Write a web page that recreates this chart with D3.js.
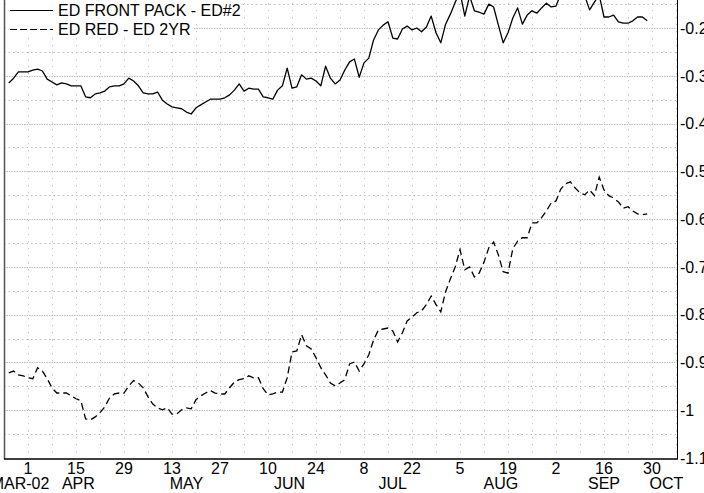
<!DOCTYPE html>
<html>
<head>
<meta charset="utf-8">
<script src="https://cdn.jsdelivr.net/npm/d3@7"></script>
<style>
  html, body { margin: 0; padding: 0; background: #fff; }
  svg { display: block; }
  text { font-family: "Liberation Sans", Arial, sans-serif; fill: #000; }
</style>
</head>
<body>
<svg id="chart" width="704" height="493"></svg>
<script>
// Spread series, one value per trading day from 2002-03-26 to 2002-09-27
const seriesStart = "2002-03-26";
const frontPackSpread = [
  -0.315, -0.305, -0.292, -0.292, -0.292, -0.288, -0.286, -0.290, -0.307, -0.313,
  -0.319, -0.315, -0.317, -0.321, -0.321, -0.321, -0.344, -0.346, -0.338, -0.336,
  -0.332, -0.323, -0.321, -0.321, -0.317, -0.305, -0.311, -0.321, -0.336, -0.338,
  -0.338, -0.334, -0.351, -0.359, -0.365, -0.367, -0.369, -0.376, -0.380, -0.367,
  -0.361, -0.355, -0.349, -0.349, -0.349, -0.346, -0.340, -0.330, -0.317, -0.332,
  -0.326, -0.328, -0.328, -0.344, -0.346, -0.349, -0.330, -0.321, -0.284, -0.326,
  -0.323, -0.298, -0.307, -0.305, -0.311, -0.321, -0.280, -0.305, -0.317, -0.309,
  -0.288, -0.271, -0.265, -0.303, -0.273, -0.263, -0.225, -0.204, -0.194, -0.187,
  -0.221, -0.223, -0.202, -0.196, -0.204, -0.200, -0.208, -0.198, -0.175, -0.210,
  -0.231, -0.192, -0.171, -0.146, -0.125, -0.175, -0.133, -0.164, -0.167, -0.171,
  -0.150, -0.156, -0.194, -0.231, -0.210, -0.179, -0.158, -0.192, -0.173, -0.164,
  -0.169, -0.158, -0.148, -0.156, -0.154, -0.129, -0.112, -0.121, -0.108, -0.125,
  -0.133, -0.162, -0.146, -0.131, -0.177, -0.177, -0.173, -0.187, -0.190, -0.190,
  -0.185, -0.177, -0.177, -0.185
];
const redSpread = [
  -0.922, -0.918, -0.926, -0.928, -0.932, -0.934, -0.911, -0.918, -0.934, -0.953,
  -0.964, -0.964, -0.964, -0.970, -0.976, -0.980, -1.018, -1.020, -1.014, -1.005,
  -0.993, -0.974, -0.966, -0.964, -0.964, -0.949, -0.938, -0.943, -0.953, -0.972,
  -0.987, -0.995, -0.999, -0.995, -1.008, -1.008, -0.999, -0.995, -0.997, -0.978,
  -0.970, -0.964, -0.959, -0.964, -0.966, -0.966, -0.953, -0.941, -0.936, -0.934,
  -0.928, -0.932, -0.932, -0.955, -0.968, -0.966, -0.962, -0.962, -0.932, -0.878,
  -0.876, -0.842, -0.865, -0.872, -0.890, -0.911, -0.926, -0.943, -0.949, -0.943,
  -0.936, -0.903, -0.899, -0.918, -0.903, -0.884, -0.853, -0.832, -0.830, -0.828,
  -0.834, -0.857, -0.838, -0.813, -0.805, -0.796, -0.792, -0.779, -0.761, -0.779,
  -0.794, -0.752, -0.725, -0.700, -0.664, -0.706, -0.700, -0.721, -0.713, -0.690,
  -0.660, -0.648, -0.675, -0.710, -0.713, -0.662, -0.646, -0.639, -0.639, -0.608,
  -0.608, -0.597, -0.583, -0.566, -0.562, -0.537, -0.526, -0.522, -0.535, -0.545,
  -0.549, -0.539, -0.551, -0.512, -0.539, -0.551, -0.556, -0.564, -0.577, -0.574,
  -0.583, -0.589, -0.591, -0.589
];
const seriesNames = ["ED FRONT PACK - ED#2", "ED RED - ED 2YR"];

// Axis: trading-day calendar, ticks every two weeks
const axisStart = "2002-03-25";
const axisEnd = "2002-10-07";
const tickDates = [
  "2002-04-01", "2002-04-15", "2002-04-29", "2002-05-13", "2002-05-27",
  "2002-06-10", "2002-06-24", "2002-07-08", "2002-07-22", "2002-08-05",
  "2002-08-19", "2002-09-02", "2002-09-16", "2002-09-30"
];
const monthLabels = ["MAR-02", "APR", "MAY", "JUN", "JUL", "AUG", "SEP", "OCT"];
const yTicks = [-1.1, -1.0, -0.9, -0.8, -0.7, -0.6, -0.5, -0.4, -0.3, -0.2, -0.1];

const parse = d3.utcParse("%Y-%m-%d");
const fmt = d3.utcFormat("%Y-%m-%d");

// weekday calendar for the x axis
const days = d3.utcDays(parse(axisStart), d3.utcDay.offset(parse(axisEnd), 1))
  .filter(d => d.getUTCDay() !== 0 && d.getUTCDay() !== 6);
const dayIndex = new Map(days.map((d, i) => [fmt(d), i]));

const plot = { left: 4, right: 676, bottom: 458 };
const x = d3.scaleLinear().domain([0, days.length - 1]).range([plot.left, plot.right]);
const y = d3.scaleLinear().domain([-1.1, -0.2]).range([458, 28]);
const frameRight = 677, frameTop = y(-0.1) - 12;

const svg = d3.select("#chart");

// grid: weekly verticals, 0.1 major and 0.05 minor horizontals
const grid = svg.append("g");
for (let i = 5; i < days.length; i += 5) {
  grid.append("line")
    .attr("x1", x(i) + 0.5).attr("x2", x(i) + 0.5)
    .attr("y1", frameTop).attr("y2", plot.bottom)
    .attr("stroke", "#b4b4b4").attr("stroke-width", 1)
    .attr("stroke-dasharray", "1,6");
}
const minor = d3.range(-1.05, -0.1, 0.1);
minor.forEach(v => {
  grid.append("line")
    .attr("x1", plot.left).attr("x2", frameRight)
    .attr("y1", Math.round(y(v)) + 0.5).attr("y2", Math.round(y(v)) + 0.5)
    .attr("stroke", "#bdbdbd").attr("stroke-width", 1)
    .attr("stroke-dasharray", "1.5,3");
});
yTicks.slice(1).forEach(v => {
  grid.append("line")
    .attr("x1", plot.left).attr("x2", frameRight)
    .attr("y1", Math.round(y(v)) + 0.5).attr("y2", Math.round(y(v)) + 0.5)
    .attr("stroke", "#bdbdbd").attr("stroke-width", 1.2)
    .attr("stroke-dasharray", "1.5,1");
});

// series lines
const startIdx = dayIndex.get(seriesStart);
const line = d3.line()
  .x((d, i) => x(startIdx + i))
  .y(d => y(d));

svg.append("path").datum(frontPackSpread)
  .attr("d", line).attr("fill", "none")
  .attr("stroke", "#000").attr("stroke-width", 1.3)
  .attr("stroke-linejoin", "round");
svg.append("path").datum(redSpread)
  .attr("d", line).attr("fill", "none")
  .attr("stroke", "#000").attr("stroke-width", 1.3)
  .attr("stroke-dasharray", "7,4");

// frame
svg.append("line").attr("x1", plot.left + 0.5).attr("x2", plot.left + 0.5)
  .attr("y1", frameTop).attr("y2", plot.bottom + 1)
  .attr("stroke", "#555").attr("stroke-width", 1.5);
svg.append("line").attr("x1", frameRight + 0.5).attr("x2", frameRight + 0.5)
  .attr("y1", frameTop).attr("y2", plot.bottom + 1)
  .attr("stroke", "#000").attr("stroke-width", 1);
svg.append("line").attr("x1", plot.left).attr("x2", frameRight + 1)
  .attr("y1", plot.bottom + 1).attr("y2", plot.bottom + 1)
  .attr("stroke", "#000").attr("stroke-width", 1.5);

// right value axis
svg.append("g").selectAll("text").data(yTicks).join("text")
  .attr("x", frameRight + 3).attr("y", d => y(d))
  .attr("dy", "0.36em")
  .attr("font-size", 16)
  .text(d => String(d));

// day-of-month ticks
const tickIdx = tickDates.map(s => dayIndex.get(s));
svg.append("g").selectAll("text").data(tickIdx).join("text")
  .attr("x", i => x(i)).attr("y", 474)
  .attr("text-anchor", "middle").attr("font-size", 16)
  .text(i => String(days[i].getUTCDate()));

// month labels, centred on each month's span of trading days
const months = d3.groups(days.map((d, i) => ({ d, i })), o => o.d.getUTCMonth());
months.forEach(([m, arr], k) => {
  let cx = (x(arr[0].i) + x(arr[arr.length - 1].i)) / 2;
  if (k === 0) cx = Math.max(cx, plot.left + 16);
  svg.append("text")
    .attr("x", cx).attr("y", 489)
    .attr("text-anchor", "middle").attr("font-size", 16)
    .text(monthLabels[k]);
});

// legend
const legend = svg.append("g");
const rows = [
  { name: seriesNames[0], dash: null, ly: 10, ty: 16, box: [5, 241] },
  { name: seriesNames[1], dash: "7,3", ly: 29, ty: 35, box: [5, 192] }
];
rows.forEach(r => {
  legend.append("rect")
    .attr("x", r.box[0] + 1).attr("y", r.ly - 8)
    .attr("width", r.box[1] - r.box[0]).attr("height", 17)
    .attr("fill", "#fff");
  legend.append("line")
    .attr("x1", 10).attr("x2", 53).attr("y1", r.ly + 0.5).attr("y2", r.ly + 0.5)
    .attr("stroke", "#000").attr("stroke-width", 1.2)
    .attr("stroke-dasharray", r.dash);
  legend.append("text")
    .attr("x", 58).attr("y", r.ty)
    .attr("font-size", 16)
    .text(r.name);
});
</script>
</body>
</html>
